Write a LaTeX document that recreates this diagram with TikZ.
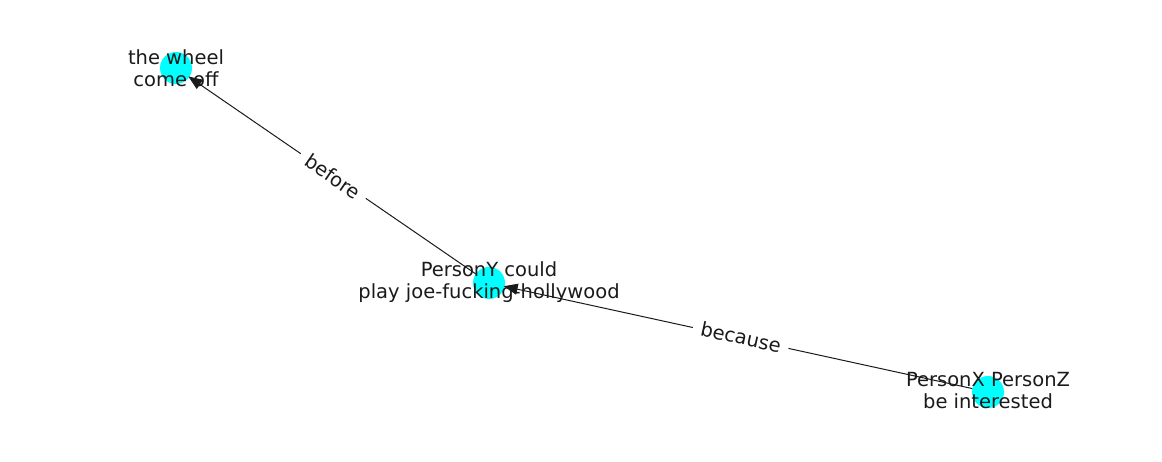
\documentclass[tikz,border=0pt]{standalone}
\usepackage{fontspec}
\setmainfont{DejaVu Sans}
\usetikzlibrary{arrows.meta}
\definecolor{nodecyan}{HTML}{00FFFF}
\definecolor{inkgray}{HTML}{1A1A1A}
\begin{document}
\begin{tikzpicture}[x=1pt,y=1pt,
  vert/.style={circle,fill=nodecyan,minimum size=32pt,inner sep=0pt},
  vlabel/.style={align=center,text=inkgray,font=\fontsize{19.5}{22}\selectfont,inner sep=0pt},
  edge/.style={draw=inkgray,line width=1pt,-{Triangle[length=14pt,width=11pt]},shorten >=15pt,shorten <=16pt},
  elabel/.style={fill=white,text=inkgray,font=\fontsize{19.5}{22}\selectfont,inner xsep=8pt,inner ysep=5pt}]
\useasboundingbox (0,0) rectangle (1162,462);
\node[vert] (w) at (176,394) {};
\node[vert] (y) at (489,179) {};
\node[vert] (x) at (988,70) {};
\draw[edge] (y.center) -- (w.center);
\draw[edge] (x.center) -- (y.center);
\node[elabel,rotate=-34.4] (lb1) at (333,285.5) {before};
\node[elabel,rotate=-12.3] (lb2) at (741,125) {because};
\node[vlabel] (tw) at (176,394) {the wheel\\come off};
\node[vlabel] (ty) at (489,180) {PersonY could\\play joe-fucking-hollywood};
\node[vlabel] (tx) at (988,71) {PersonX PersonZ\\be interested};
\end{tikzpicture}
\end{document}
